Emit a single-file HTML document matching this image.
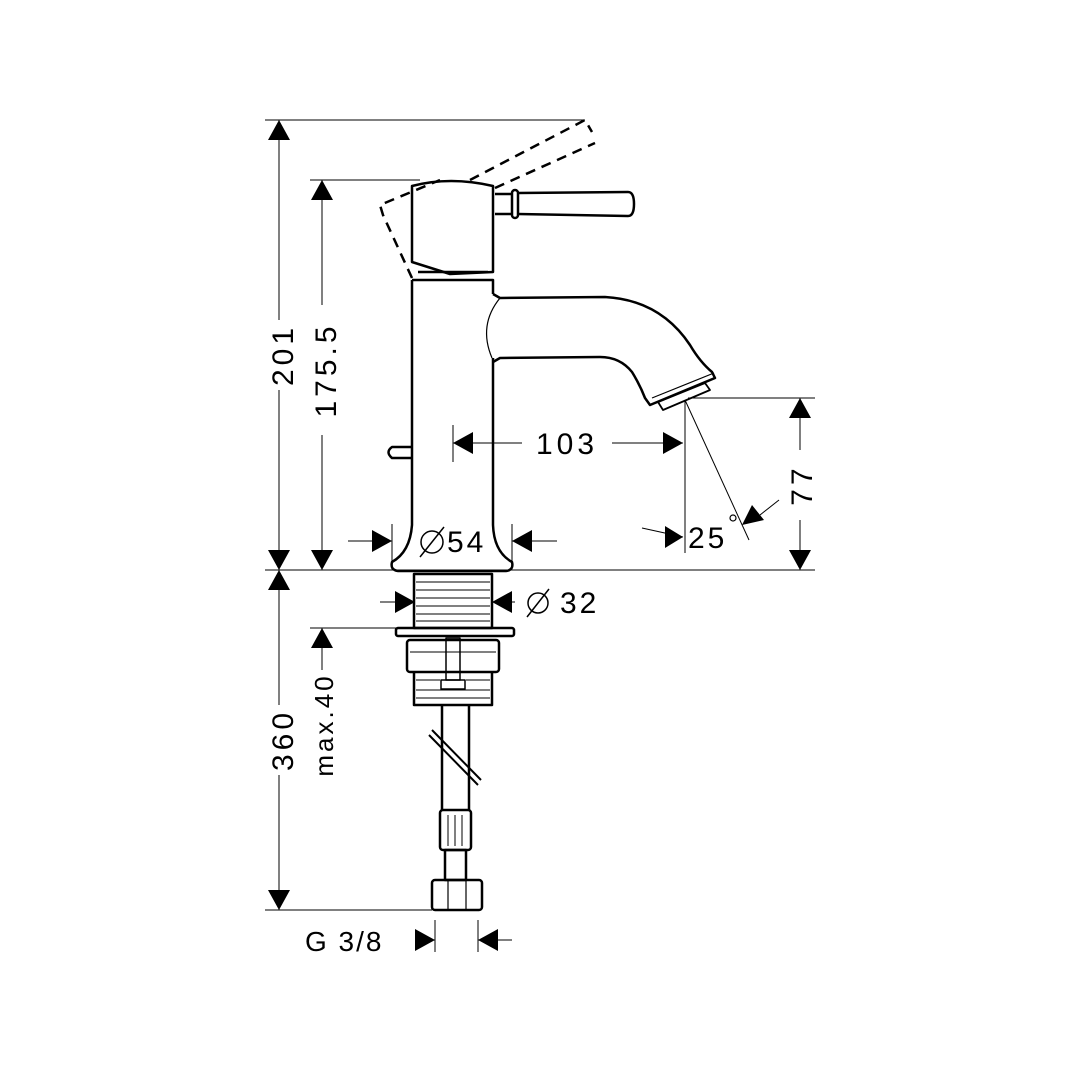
<!DOCTYPE html>
<html><head><meta charset="utf-8"><style>
html,body{margin:0;padding:0;background:#fff}
svg{display:block}
text{font-family:"Liberation Sans",sans-serif;fill:#000}
</style></head><body>
<svg width="1080" height="1080" viewBox="0 0 1080 1080" xmlns="http://www.w3.org/2000/svg">
<rect width="1080" height="1080" fill="#fff"/>
<g stroke="#000" stroke-width="1" fill="none">
<line x1="265" y1="120" x2="585" y2="120"/>
<line x1="310" y1="180" x2="420" y2="180"/>
<line x1="265" y1="570" x2="815" y2="570"/>
<line x1="265" y1="910" x2="432" y2="910"/>
<line x1="310" y1="628" x2="398" y2="628"/>
<line x1="688" y1="398" x2="815" y2="398"/>
<line x1="279" y1="120" x2="279" y2="320"/>
<line x1="279" y1="390" x2="279" y2="570"/>
<line x1="322" y1="180" x2="322" y2="305"/>
<line x1="322" y1="435" x2="322" y2="570"/>
<line x1="279" y1="570" x2="279" y2="705"/>
<line x1="279" y1="775" x2="279" y2="910"/>
<line x1="322" y1="628" x2="322" y2="670"/>
<line x1="800" y1="398" x2="800" y2="450"/>
<line x1="800" y1="520" x2="800" y2="570"/>
<line x1="453" y1="443" x2="522" y2="443"/>
<line x1="612" y1="443" x2="683" y2="443"/>
<line x1="453" y1="425" x2="453" y2="462"/>
<line x1="685" y1="400" x2="685" y2="553"/>
<line x1="685" y1="400" x2="749" y2="540"/>
<line x1="642" y1="528" x2="683" y2="537"/>
<line x1="760" y1="515" x2="779" y2="500"/>
<line x1="348" y1="541" x2="392" y2="541"/>
<line x1="512" y1="541" x2="557" y2="541"/>
<line x1="392" y1="524" x2="392" y2="565"/>
<line x1="512" y1="524" x2="512" y2="565"/>
<line x1="380" y1="602" x2="415" y2="602"/>
<line x1="492" y1="602" x2="515" y2="602"/>
<line x1="415" y1="940" x2="435" y2="940"/>
<line x1="478" y1="940" x2="512" y2="940"/>
<line x1="435" y1="920" x2="435" y2="952"/>
<line x1="478" y1="920" x2="478" y2="952"/>
</g>
<g fill="#000">
<polygon points="279,120 268,140 290,140"/>
<polygon points="279,570 268,550 290,550"/>
<polygon points="279,570 268,590 290,590"/>
<polygon points="279,910 268,890 290,890"/>
<polygon points="322,180 311,200 333,200"/>
<polygon points="322,570 311,550 333,550"/>
<polygon points="322,628 311,648 333,648"/>
<polygon points="800,398 789,418 811,418"/>
<polygon points="800,570 789,550 811,550"/>
<polygon points="453,443 473,432 473,454"/>
<polygon points="683,443 663,432 663,454"/>
<polygon points="683,537 665,526 665,548"/>
<polygon points="742,525 752,505 764,520"/>
<polygon points="392,541 372,530 372,552"/>
<polygon points="512,541 532,530 532,552"/>
<polygon points="415,602 395,591 395,613"/>
<polygon points="492,602 512,591 512,613"/>
<polygon points="435,940 415,929 415,951"/>
<polygon points="478,940 498,929 498,951"/>
</g>
<text x="0" y="0" font-size="30" letter-spacing="4" text-anchor="middle" transform="translate(293,355) rotate(-90)">201</text>
<text x="0" y="0" font-size="30" letter-spacing="4" text-anchor="middle" transform="translate(336,370) rotate(-90)">175.5</text>
<text x="0" y="0" font-size="30" letter-spacing="4" text-anchor="middle" transform="translate(293,740) rotate(-90)">360</text>
<text x="0" y="0" font-size="26" letter-spacing="3" text-anchor="middle" transform="translate(333,725) rotate(-90)">max.40</text>
<text x="0" y="0" font-size="30" letter-spacing="4" text-anchor="middle" transform="translate(812,485) rotate(-90)">77</text>
<text x="567" y="454" font-size="30" letter-spacing="4" text-anchor="middle">103</text>
<text x="688" y="548" font-size="30" letter-spacing="3">25</text>
<circle cx="733" cy="518" r="3" fill="none" stroke="#000" stroke-width="1.2"/>
<g stroke="#000" stroke-width="1.5" fill="none">
<circle cx="432" cy="542" r="11"/>
<line x1="420" y1="557" x2="444" y2="527"/>
<circle cx="538" cy="603" r="10"/>
<line x1="527" y1="617" x2="549" y2="589"/>
</g>
<text x="447" y="552" font-size="30" letter-spacing="3">54</text>
<text x="560" y="613" font-size="30" letter-spacing="3">32</text>
<text x="305" y="951" font-size="28" letter-spacing="2">G 3/8</text>
<g stroke="#000" stroke-width="2.5" fill="none" stroke-linejoin="round">
<path d="M412,278 L383,215 L380,205 L440,180" stroke-dasharray="10,7"/>
<path d="M470,180 L585,120 L592,132" stroke-dasharray="10,7"/>
<path d="M495,188 L595,143" stroke-dasharray="10,7"/>
<path d="M412,186 Q450,176 493,186 L493,272 L450,274 L412,262 Z"/>
<path d="M418,272 L488,272"/>
<path d="M495,194 L512,194 M495,214 L512,214"/>
<rect x="512" y="190" width="6" height="28" rx="3"/>
<path d="M518,193 L628,192 Q634,192 634,204 Q634,216 628,216 L518,214"/>
<path d="M412,280 L412,525 Q410,552 392,562 Q390,570 398,571 L506,571 Q514,570 512,562 Q494,552 493,525 L493,358"/>
<path d="M412,280 L493,280 L493,294"/>
<path d="M493,294 L500,298 L605,297 Q660,300 690,345 Q700,362 712,372 L715,378 L650,405 L645,398 Q640,385 632,372 Q620,357 600,357 L500,358 L493,362"/>
<path d="M500,298 Q478,325 492,358" stroke-width="1.2"/>
<path d="M652,398 L714,373" stroke-width="1.2"/>
<path d="M658,402 L705,383 L710,390 L663,410 Z" stroke-width="1.8"/>
<path d="M412,447 L392,447 Q385,452 392,458 L412,458"/>
<rect x="414" y="574" width="78" height="54"/>
<rect x="396" y="628" width="118" height="8" rx="2"/>
<rect x="407" y="640" width="92" height="32" rx="3"/>
<path d="M414,672 L414,705 L492,705 L492,672"/>
<rect x="446" y="638" width="14" height="42" stroke-width="1.5"/>
<rect x="441" y="680" width="24" height="9" stroke-width="1.5"/>
<path d="M442,705 L442,810 M469,705 L469,810"/>
<path d="M429,735 L478,785 M432,730 L481,780" stroke-width="2"/>
<rect x="440" y="810" width="31" height="40" rx="3"/>
<rect x="445" y="850" width="21" height="30"/>
<rect x="432" y="880" width="50" height="30" rx="3"/>
<path d="M448,880 L448,910 M466,880 L466,910" stroke-width="1.2"/>
</g>
<g stroke="#000" stroke-width="1" fill="none">
<path d="M416,582 H490 M416,590 H490 M416,598 H490 M416,606 H490 M416,614 H490 M416,621 H490"/>
<path d="M410,652 H496 M416,690 H490 M416,698 H490 M416,680 H440 M466,680 H490"/>
<path d="M448,815 V846 M455,815 V846 M462,815 V846"/>
</g>
</svg>
</body></html>
